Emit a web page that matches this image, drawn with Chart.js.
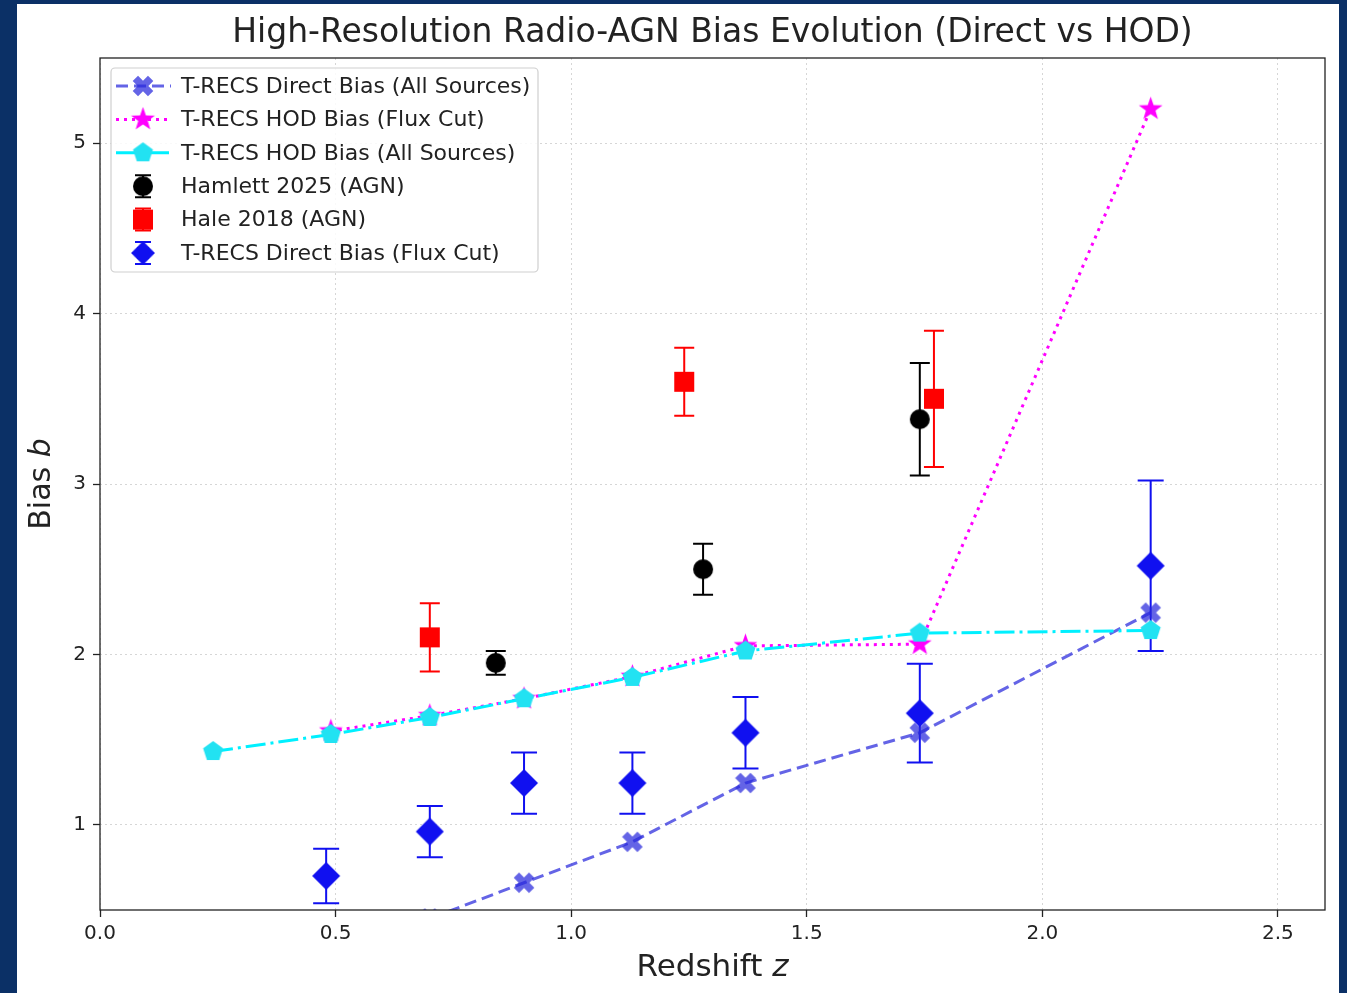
<!DOCTYPE html>
<html>
<head>
<meta charset="utf-8">
<script src="https://cdn.jsdelivr.net/npm/chart.js@4.4.1/dist/chart.umd.min.js"></script>
<style>
  html, body { margin: 0; padding: 0; background: #0b3066; overflow: hidden; }
  #paper { position: absolute; left: 17px; top: 4px; width: 1322px; height: 989px; background: #fff; }
  #c { position: absolute; left: 0; top: 0; }
</style>
</head>
<body>
<div id="paper"></div>
<canvas id="c" width="1347" height="993"></canvas>
<script>
// redshift / bias values
var zDirectAll = [0.49, 0.70, 0.90, 1.13, 1.37, 1.74, 2.23];
var bDirectAll = [0.22, 0.45, 0.66, 0.90, 1.245, 1.54, 2.245];

var zHodFlux = [0.49, 0.70, 0.90, 1.13, 1.37, 1.74, 2.23];
var bHodFlux = [1.55, 1.64, 1.74, 1.87, 2.05, 2.06, 5.20];

var zHodAll = [0.24, 0.49, 0.70, 0.90, 1.13, 1.37, 1.74, 2.23];
var bHodAll = [1.43, 1.53, 1.63, 1.74, 1.865, 2.02, 2.125, 2.14];

var zHamlett = [0.84, 1.28, 1.74];
var bHamlett = [1.95, 2.50, 3.38];
var eHamlett = [0.07, 0.15, 0.33];

var zHale = [0.70, 1.24, 1.77];
var bHale = [2.10, 3.60, 3.50];
var eHale = [0.20, 0.20, 0.40];

var zFluxCut = [0.48, 0.70, 0.90, 1.13, 1.37, 1.74, 2.23];
var bFluxCut = [0.70, 0.96, 1.245, 1.245, 1.54, 1.655, 2.52];
var eFluxCut = [0.16, 0.15, 0.18, 0.18, 0.21, 0.29, 0.50];

var xTicks = [0.0, 0.5, 1.0, 1.5, 2.0, 2.5];
var yTicks = [1, 2, 3, 4, 5];

var FONT = "'DejaVu Sans', sans-serif";

function pts(xs, ys) {
    var out = [];
    for (var i = 0; i < xs.length; i++) out.push({ x: xs[i], y: ys[i] });
    return out;
}

// small canvases used as matplotlib-like filled markers
function marker(shape, size, color) {
    var c = document.createElement('canvas');
    c.width = c.height = size + 4;
    var g = c.getContext('2d');
    var m = (size + 4) / 2, r = size / 2;
    g.fillStyle = color;
    g.beginPath();
    if (shape === 'circle') {
        g.arc(m, m, r, 0, 2 * Math.PI);
    } else if (shape === 'square') {
        g.rect(m - r, m - r, size, size);
    } else if (shape === 'diamond') {
        g.moveTo(m, m - r); g.lineTo(m + r, m); g.lineTo(m, m + r); g.lineTo(m - r, m);
    } else if (shape === 'pentagon') {
        for (var k = 0; k < 5; k++) {
            var a = -Math.PI / 2 + k * 2 * Math.PI / 5;
            g.lineTo(m + r * Math.cos(a), m + r * Math.sin(a));
        }
    } else if (shape === 'star') {
        for (var k = 0; k < 10; k++) {
            var a = -Math.PI / 2 + k * Math.PI / 5;
            var rr = (k % 2 === 0) ? r : r * 0.4;
            g.lineTo(m + rr * Math.cos(a), m + rr * Math.sin(a));
        }
    } else if (shape === 'x') {
        var t = r * 0.42, R = r * 1.2;
        var p = [[-t,-R],[t,-R],[t,-t],[R,-t],[R,t],[t,t],[t,R],[-t,R],[-t,t],[-R,t],[-R,-t],[-t,-t]];
        for (var k = 0; k < p.length; k++) {
            var px = (p[k][0] - p[k][1]) / Math.SQRT2, py = (p[k][0] + p[k][1]) / Math.SQRT2;
            g.lineTo(m + px, m + py);
        }
    }
    g.closePath();
    g.fill();
    return c;
}

var mX = marker('x', 18, 'rgba(40,40,220,0.72)');
var mStar = marker('star', 25, '#ff00ff');
var mPent = marker('pentagon', 21, '#22e2f2');
var mCirc = marker('circle', 20, '#000000');
var mSq = marker('square', 20, '#ff0000');
var mDia = marker('diamond', 28, '#1010f0');

var datasets = [
    {
        label: 'T-RECS Direct Bias (All Sources)',
        data: pts(zDirectAll, bDirectAll),
        showLine: true, borderColor: 'rgba(40,40,220,0.72)', borderWidth: 3, borderDash: [12, 6],
        pointStyle: mX, pointRadius: 10, order: 5, clip: 0
    },
    {
        label: 'T-RECS HOD Bias (Flux Cut)',
        data: pts(zHodFlux, bHodFlux),
        showLine: true, borderColor: '#ff00ff', borderWidth: 3, borderDash: [3, 5],
        pointStyle: mStar, pointRadius: 12, order: 4
    },
    {
        label: 'T-RECS HOD Bias (All Sources)',
        data: pts(zHodAll, bHodAll),
        showLine: true, borderColor: '#00f0ff', borderWidth: 3, borderDash: [20, 5, 3, 5],
        pointStyle: mPent, pointRadius: 10, order: 3
    },
    {
        label: 'Hamlett 2025 (AGN)',
        data: pts(zHamlett, bHamlett), errors: eHamlett, errColor: '#000000', cap: 10,
        showLine: false, pointStyle: mCirc, pointRadius: 10, order: 2
    },
    {
        label: 'Hale 2018 (AGN)',
        data: pts(zHale, bHale), errors: eHale, errColor: '#ff0000', cap: 10,
        showLine: false, pointStyle: mSq, pointRadius: 10, order: 1
    },
    {
        label: 'T-RECS Direct Bias (Flux Cut)',
        data: pts(zFluxCut, bFluxCut), errors: eFluxCut, errColor: '#1010f0', cap: 13,
        showLine: false, pointStyle: mDia, pointRadius: 14, order: 6
    }
];

// vertical error bars, drawn just under each dataset's markers
var errorBars = {
    id: 'errorBars',
    beforeDatasetDraw: function (chart, args) {
        var ds = chart.data.datasets[args.index];
        if (!ds.errors) return;
        var ctx = chart.ctx, xs = chart.scales.x, ys = chart.scales.y, a = chart.chartArea;
        ctx.save();
        ctx.beginPath();
        ctx.rect(a.left, a.top, a.right - a.left, a.bottom - a.top);
        ctx.clip();
        ctx.strokeStyle = ds.errColor;
        ctx.lineWidth = 2;
        ctx.setLineDash([]);
        for (var i = 0; i < ds.data.length; i++) {
            var px = xs.getPixelForValue(ds.data[i].x);
            var top = ys.getPixelForValue(ds.data[i].y + ds.errors[i]);
            var bot = ys.getPixelForValue(ds.data[i].y - ds.errors[i]);
            ctx.beginPath();
            ctx.moveTo(px, top); ctx.lineTo(px, bot);
            ctx.moveTo(px - ds.cap, top); ctx.lineTo(px + ds.cap, top);
            ctx.moveTo(px - ds.cap, bot); ctx.lineTo(px + ds.cap, bot);
            ctx.stroke();
        }
        ctx.restore();
    }
};

// frame, title, axis titles and the legend box inside the plot
var decorations = {
    id: 'decorations',
    afterDraw: function (chart) {
        var ctx = chart.ctx, a = chart.chartArea;
        var cx = (a.left + a.right) / 2;
        ctx.save();
        ctx.strokeStyle = '#222';
        ctx.lineWidth = 1.3;
        ctx.setLineDash([]);
        ctx.strokeRect(a.left, a.top, a.right - a.left, a.bottom - a.top);

        ctx.fillStyle = '#222';
        ctx.textAlign = 'center';
        ctx.textBaseline = 'middle';
        ctx.font = '33px ' + FONT;
        ctx.fillText('High-Resolution Radio-AGN Bias Evolution (Direct vs HOD)', cx, 33);

        // x title with italic z
        ctx.font = '31px ' + FONT;
        var w1 = ctx.measureText('Redshift ').width;
        ctx.font = 'italic 31px ' + FONT;
        var w2 = ctx.measureText('z').width;
        var x0 = cx - (w1 + w2) / 2;
        ctx.textAlign = 'left';
        ctx.font = '31px ' + FONT;
        ctx.fillText('Redshift ', x0, 968);
        ctx.font = 'italic 31px ' + FONT;
        ctx.fillText('z', x0 + w1, 968);

        // y title with italic b
        ctx.translate(42, (a.top + a.bottom) / 2);
        ctx.rotate(-Math.PI / 2);
        ctx.font = '30px ' + FONT;
        w1 = ctx.measureText('Bias ').width;
        ctx.font = 'italic 30px ' + FONT;
        w2 = ctx.measureText('b').width;
        x0 = -(w1 + w2) / 2;
        ctx.font = '30px ' + FONT;
        ctx.fillText('Bias ', x0, 0);
        ctx.font = 'italic 30px ' + FONT;
        ctx.fillText('b', x0 + w1, 0);
        ctx.restore();

        // legend
        ctx.save();
        var bx = 111, by = 68, bw = 427, bh = 204;
        ctx.beginPath();
        ctx.roundRect(bx, by, bw, bh, 4);
        ctx.fillStyle = 'rgba(255,255,255,0.85)';
        ctx.fill();
        ctx.strokeStyle = '#cfcfcf';
        ctx.lineWidth = 1.2;
        ctx.stroke();
        var dsl = chart.data.datasets;
        for (var i = 0; i < dsl.length; i++) {
            var d = dsl[i];
            var yy = 86 + i * 33.4;
            var hx = 143;
            if (d.showLine) {
                ctx.beginPath();
                ctx.strokeStyle = d.borderColor;
                ctx.lineWidth = d.borderWidth;
                ctx.setLineDash(d.borderDash);
                ctx.moveTo(116, yy); ctx.lineTo(171, yy);
                ctx.stroke();
                ctx.setLineDash([]);
            }
            if (d.errors) {
                ctx.beginPath();
                ctx.strokeStyle = d.errColor;
                ctx.lineWidth = 2;
                ctx.moveTo(hx, yy - 11); ctx.lineTo(hx, yy + 11);
                ctx.moveTo(hx - 8, yy - 11); ctx.lineTo(hx + 8, yy - 11);
                ctx.moveTo(hx - 8, yy + 11); ctx.lineTo(hx + 8, yy + 11);
                ctx.stroke();
            }
            var img = d.pointStyle;
            var s = img.width * (img === mDia ? 0.85 : 1);
            ctx.drawImage(img, hx - s / 2, yy - s / 2, s, s);
            ctx.fillStyle = '#222';
            ctx.font = '22px ' + FONT;
            ctx.textAlign = 'left';
            ctx.textBaseline = 'middle';
            ctx.fillText(d.label, 181, yy + 1);
        }
        ctx.restore();
    }
};

new Chart(document.getElementById('c'), {
    type: 'scatter',
    data: { datasets: datasets },
    options: {
        responsive: false,
        animation: false,
        devicePixelRatio: 1,
        layout: { padding: { left: 0, top: 58, right: 22, bottom: 0 } },
        plugins: { legend: { display: false }, tooltip: { enabled: false }, title: { display: false } },
        scales: {
            x: {
                type: 'linear', min: 0, max: 2.6,
                afterFit: function (s) { s.height = 83; },
                afterBuildTicks: function (s) { s.ticks = xTicks.map(function (v) { return { value: v }; }); },
                ticks: {
                    padding: 5, color: '#222', font: { family: FONT, size: 20 },
                    callback: function (v) { return Number(v).toFixed(1); }
                },
                grid: { color: '#d6d6d6', lineWidth: 1, tickLength: 7, tickColor: '#222', tickWidth: 1.3, tickBorderDash: [] },
                border: { display: false, dash: [2, 3] }
            },
            y: {
                type: 'linear', min: 0.5, max: 5.5,
                afterFit: function (s) { s.width = 100; },
                afterBuildTicks: function (s) { s.ticks = yTicks.map(function (v) { return { value: v }; }); },
                ticks: {
                    padding: 7, color: '#222', font: { family: FONT, size: 20 },
                    callback: function (v) { return String(v); }
                },
                grid: { color: '#d6d6d6', lineWidth: 1, tickLength: 7, tickColor: '#222', tickWidth: 1.3, tickBorderDash: [] },
                border: { display: false, dash: [2, 3] }
            }
        }
    },
    plugins: [errorBars, decorations]
});
</script>
</body>
</html>
